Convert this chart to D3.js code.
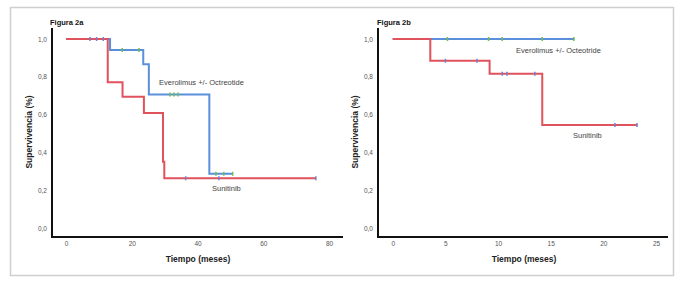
<!DOCTYPE html>
<html>
<head>
<meta charset="utf-8">
<script src="https://cdn.jsdelivr.net/npm/d3@7"></script>
<style>
  body { margin: 0; background: #fff; }
  svg { display: block; font-family: "Liberation Sans", Arial, sans-serif; }
</style>
</head>
<body>
<svg id="chart" width="684" height="283"></svg>
<script>
// Figura 2a
const timesSunA = [0, 12.7, 17.2, 23.7, 29.5, 29.9];
const survSunA = [1, 0.771, 0.695, 0.608, 0.351, 0.263];
const endSunA = 76;
const censorSunA = [7.3, 9.3, 11.3, 36.4, 46.5, 76];

const timesEveA = [0, 13.4, 23.5, 25.2, 43.6];
const survEveA = [1, 0.942, 0.866, 0.707, 0.287];
const endEveA = 50.7;
const censorEveA = [17.1, 22.2, 31.6, 32.8, 34.1, 45.6, 48, 50.7];

const xTicksA = [0, 20, 40, 60, 80];

// Figura 2b
const timesSunB = [0, 3.57, 9.2, 14.2];
const survSunB = [1, 0.885, 0.816, 0.545];
const endSunB = 23.2;
const censorSunB = [5.0, 8.0, 10.4, 10.85, 13.5, 21.1, 23.2];

const timesEveB = [0];
const survEveB = [1];
const endEveB = 17.25;
const censorEveB = [5.2, 9.1, 10.4, 14.2, 17.2];

const xTicksB = [0, 5, 10, 15, 20, 25];
const yTicks = [0, 0.2, 0.4, 0.6, 0.8, 1.0];

const red = "#e0525c";
const blue = "#5b8fdc";
const greenMark = "#6cbf4e";
const blueMark = "#6f7fd0";

const svg = d3.select("#chart");

// marco gris
svg.append("rect")
  .attr("x", 10.5).attr("y", 7.5)
  .attr("width", 663).attr("height", 268)
  .attr("fill", "none").attr("stroke", "#cfcfcf").attr("stroke-width", 1.5);

const yScale = d3.scaleLinear().domain([0, 1]).range([228, 39]);
const fmt = d => d3.format(".1f")(d).replace(".", ",");

// valor de supervivencia en el tiempo t (función escalón)
const survAt = (times, surv, t) => {
  let s = surv[0];
  times.forEach((tt, i) => { if (tt <= t) s = surv[i]; });
  return s;
};

const drawPanel = (p) => {
  const x = d3.scaleLinear().domain(p.xDomain).range(p.xRange);
  const g = svg.append("g");

  // ejes
  g.append("line")
    .attr("x1", p.axisX).attr("x2", p.axisX)
    .attr("y1", 28).attr("y2", 238)
    .attr("stroke", "#111").attr("stroke-width", 2);
  g.append("line")
    .attr("x1", p.axisX - 1).attr("x2", p.axisEnd)
    .attr("y1", 237).attr("y2", 237)
    .attr("stroke", "#111").attr("stroke-width", 2);

  const yAxis = g.append("g")
    .attr("transform", `translate(${p.axisX},0)`)
    .call(d3.axisLeft(yScale).tickValues(yTicks).tickFormat(fmt).tickSize(0).tickPadding(5));
  yAxis.select(".domain").remove();
  yAxis.selectAll("text").attr("font-size", 6.5).attr("fill", "#555").attr("font-family", null);

  const xAxis = g.append("g")
    .attr("transform", "translate(0,240)")
    .call(d3.axisBottom(x).tickValues(p.xTicks).tickSize(0).tickPadding(1));
  xAxis.select(".domain").remove();
  xAxis.selectAll("text").attr("font-size", 6.5).attr("fill", "#555").attr("font-family", null);

  // títulos
  g.append("text")
    .attr("x", p.titleX).attr("y", 25)
    .attr("font-size", 7.5).attr("font-weight", "bold").attr("fill", "#111")
    .text(p.title);
  g.append("text")
    .attr("transform", `translate(${p.yLabelX},132) rotate(-90)`)
    .attr("text-anchor", "middle")
    .attr("font-size", 8.5).attr("font-weight", "bold").attr("fill", "#222")
    .text("Supervivencia (%)");
  g.append("text")
    .attr("x", p.xLabelX).attr("y", 262)
    .attr("text-anchor", "middle")
    .attr("font-size", 8.5).attr("font-weight", "bold").attr("fill", "#222")
    .text("Tiempo (meses)");

  // curvas Kaplan-Meier
  const stepLine = d3.line().x(d => x(d[0])).y(d => yScale(d[1])).curve(d3.curveStepAfter);
  p.series.forEach(s => {
    const pts = s.times.map((t, i) => [t, s.surv[i]]);
    pts.push([s.end, s.surv[s.surv.length - 1]]);
    g.append("path")
      .attr("d", stepLine(pts))
      .attr("fill", "none").attr("stroke", s.color).attr("stroke-width", 2);
  });

  // marcas de censura
  p.series.forEach(s => {
    g.selectAll(null)
      .data(s.censor)
      .join("line")
      .attr("x1", d => x(d)).attr("x2", d => x(d))
      .attr("y1", d => yScale(survAt(s.times, s.surv, d)) - 2)
      .attr("y2", d => yScale(survAt(s.times, s.surv, d)) + 2)
      .attr("stroke", s.mark).attr("stroke-width", 1.5);
  });

  // etiquetas de series
  p.labels.forEach(l => {
    g.append("text")
      .attr("x", l.x).attr("y", l.y)
      .attr("font-size", 7.5).attr("fill", "#444")
      .text(l.text);
  });
};

drawPanel({
  title: "Figura 2a", titleX: 50,
  xDomain: [0, 80], xRange: [66, 329], xTicks: xTicksA,
  axisX: 52, axisEnd: 343, yLabelX: 32, xLabelX: 198,
  series: [
    { times: timesEveA, surv: survEveA, end: endEveA, censor: censorEveA, color: blue, mark: greenMark },
    { times: timesSunA, surv: survSunA, end: endSunA, censor: censorSunA, color: red, mark: blueMark }
  ],
  labels: [
    { text: "Everolimus +/- Octreotide", x: 159, y: 85 },
    { text: "Sunitinib", x: 212, y: 191 }
  ]
});

drawPanel({
  title: "Figura 2b", titleX: 377,
  xDomain: [0, 25], xRange: [392.7, 656], xTicks: xTicksB,
  axisX: 378, axisEnd: 668, yLabelX: 358, xLabelX: 524,
  series: [
    { times: timesEveB, surv: survEveB, end: endEveB, censor: censorEveB, color: blue, mark: greenMark },
    { times: timesSunB, surv: survSunB, end: endSunB, censor: censorSunB, color: red, mark: blueMark }
  ],
  labels: [
    { text: "Everolimus +/- Octeotride", x: 516, y: 53 },
    { text: "Sunitinib", x: 573, y: 138 }
  ]
});
</script>
</body>
</html>
